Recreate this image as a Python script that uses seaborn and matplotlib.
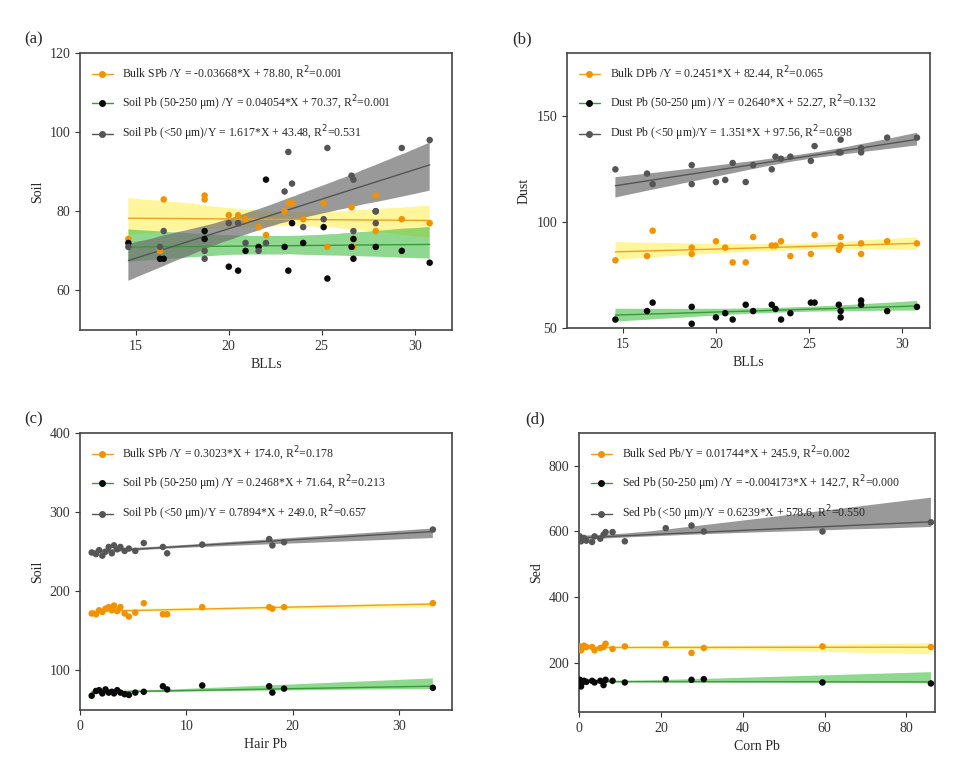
import numpy as np
import pandas as pd
import matplotlib
matplotlib.use('Agg')
import matplotlib.pyplot as plt
from matplotlib.lines import Line2D
import seaborn as sns

sns.set_style('ticks')
plt.rcParams['font.family'] = ['Liberation Serif', 'DejaVu Serif']

# (a) soil vs BLLs
a_x = [14.6, 16.3, 16.5, 18.7, 18.7, 20, 20.5, 20.9, 21.6, 22, 23, 23.2, 23.4, 24, 25.1, 25.3,
       26.6, 26.7, 26.7, 27.9, 27.9, 29.3, 30.8]
a_bulk = [73, 70, 83, 84, 83, 79, 79, 78, 76, 74, 80, 82, 82, 78, 82, 71, 81, 73, 71, 84, 75, 78, 77]
a_coarse = [72, 68, 68, 75, 73, 66, 65, 70, 71, 88, 71, 65, 77, 72, 76, 63, 71, 68, 73, 80, 71, 70, 67]
a_fine = [71, 71, 75, 70, 68, 77, 77, 72, 70, 72, 85, 95, 87, 76, 78, 96, 89, 88, 75, 77, 80, 96, 98]
a_labels = ['Bulk SPb /Y = -0.03668*X + 78.80, R$^2$=0.001',
            'Soil Pb (50-250 μm) /Y = 0.04054*X + 70.37, R$^2$=0.001',
            'Soil Pb (<50 μm)/Y = 1.617*X + 43.48, R$^2$=0.531']

# (b) dust vs BLLs
b_x = [14.6, 16.3, 16.6, 18.7, 18.7, 20, 20.5, 20.9, 21.6, 22, 23, 23.2, 23.5, 24, 25.1, 25.3,
       26.6, 26.7, 26.7, 27.8, 27.8, 29.2, 30.8]
b_bulk = [82, 84, 96, 88, 85, 91, 88, 81, 81, 93, 89, 89, 91, 84, 85, 94, 87, 93, 89, 90, 85, 91, 90]
b_coarse = [54, 58, 62, 60, 52, 55, 57, 54, 61, 58, 61, 59, 54, 57, 62, 62, 61, 58, 55, 63, 61, 58, 60]
b_fine = [125, 123, 118, 127, 118, 119, 120, 128, 119, 127, 125, 131, 130, 131, 129, 136, 133, 139,
          133, 135, 133, 140, 140]
b_labels = ['Bulk DPb /Y = 0.2451*X + 82.44, R$^2$=0.065',
            'Dust Pb (50-250 μm) /Y = 0.2640*X + 52.27, R$^2$=0.132',
            'Dust Pb (<50 μm)/Y = 1.351*X + 97.56, R$^2$=0.698']

# (c) soil vs hair Pb
c_x = [1.1, 1.5, 1.8, 2.1, 2.4, 2.7, 3.0, 3.2, 3.5, 3.8, 4.2, 4.6, 5.2, 6.0, 7.8, 8.2, 11.5,
       17.8, 18.1, 19.2, 33.2]
c_bulk = [172, 171, 176, 174, 178, 180, 176, 182, 175, 180, 172, 168, 173, 185, 171, 171, 180,
          180, 178, 180, 185]
c_coarse = [68, 74, 75, 71, 76, 72, 73, 71, 75, 72, 70, 69, 72, 73, 80, 76, 81, 80, 72, 77, 78]
c_fine = [249, 247, 252, 245, 250, 256, 248, 258, 253, 256, 251, 254, 251, 261, 256, 248, 259,
          266, 258, 262, 278]
c_labels = ['Bulk SPb /Y = 0.3023*X + 174.0, R$^2$=0.178',
            'Soil Pb (50-250 μm) /Y = 0.2468*X + 71.64, R$^2$=0.213',
            'Soil Pb (<50 μm)/Y = 0.7894*X + 249.0, R$^2$=0.657']

# (d) sediment vs corn Pb
d_x = [0.2, 0.5, 0.8, 1.2, 1.8, 3.2, 3.8, 5.2, 6.0, 6.5, 8.2, 11.2, 21.2, 27.5, 30.5, 59.5, 86]
d_bulk = [250, 238, 245, 252, 248, 248, 238, 245, 248, 258, 242, 250, 258, 230, 245, 250, 248]
d_coarse = [148, 128, 140, 145, 142, 145, 140, 145, 132, 148, 145, 140, 150, 148, 150, 140, 137]
d_fine = [585, 570, 575, 580, 572, 568, 585, 578, 590, 598, 598, 570, 610, 618, 600, 600, 628]
d_labels = ['Bulk Sed Pb/Y = 0.01744*X + 245.9, R$^2$=0.002',
            'Sed Pb (50-250 μm) /Y = -0.004173*X + 142.7, R$^2$=0.000',
            'Sed Pb (<50 μm)/Y = 0.6239*X + 578.6, R$^2$=0.550']

# (point colour, line colour, band colour, band alpha)
styles = [('#F39200', '#F0A020', '#FFF27A', 0.75),
          ('#0A0A0A', '#3A9A3A', '#44BE44', 0.6),
          ('#555555', '#555555', '#6E6E6E', 0.7)]

panels = [
    ('(a)', a_x, [a_bulk, a_coarse, a_fine], a_labels, 'BLLs', 'Soil',
     [80, 452, 53, 330], (12, 32), (50, 120), [15, 20, 25, 30], [60, 80, 100, 120]),
    ('(b)', b_x, [b_bulk, b_coarse, b_fine], b_labels, 'BLLs', 'Dust',
     [567, 930, 53, 328], (12, 31.5), (50, 180), [15, 20, 25, 30], [50, 100, 150]),
    ('(c)', c_x, [c_bulk, c_coarse, c_fine], c_labels, 'Hair Pb', 'Soil',
     [80, 452, 433, 710], (0, 35), (50, 400), [0, 10, 20, 30], [100, 200, 300, 400]),
    ('(d)', d_x, [d_bulk, d_coarse, d_fine], d_labels, 'Corn Pb', 'Sed',
     [579, 935, 433, 712], (0, 87), (50, 900), [0, 20, 40, 60, 80], [200, 400, 600, 800]),
]

W, H = 974, 762
fig = plt.figure(figsize=(W / 100, H / 100), dpi=100)

for tag, xs, series, labels, xlab, ylab, box, xlim, ylim, xt, yt in panels:
    l, r, t, b = box
    ax = fig.add_axes([l / W, 1 - b / H, (r - l) / W, (b - t) / H])
    handles = []
    for ys, lab, (pc, lc, bc, al) in zip(series, labels, styles):
        df = pd.DataFrame({'x': xs, 'y': ys})
        n_before = len(ax.collections)
        sns.regplot(data=df, x='x', y='y', ax=ax, scatter=False, color=bc,
                    line_kws={'color': lc, 'lw': 1})
        for coll in ax.collections[n_before:]:
            coll.set_facecolor(bc)
            coll.set_alpha(al)
            coll.set_edgecolor('none')
        sns.scatterplot(data=df, x='x', y='y', ax=ax, color=pc, s=22, edgecolor='none', zorder=3)
        handles.append(Line2D([], [], color=lc, marker='o', markerfacecolor=pc,
                              markeredgecolor=pc, markersize=4, lw=1, label=lab))
    ax.legend(handles=handles, loc='upper left', frameon=False, fontsize=8.5,
              handlelength=1.8, labelspacing=0.9, borderaxespad=0.6)
    ax.set_xlim(*xlim)
    ax.set_ylim(*ylim)
    ax.set_xticks(xt)
    ax.set_yticks(yt)
    ax.set_xlabel(xlab, fontsize=10)
    ax.set_ylabel(ylab, fontsize=10)
    ax.tick_params(labelsize=10, color='#333333', labelcolor='#333333')
    for sp in ax.spines.values():
        sp.set_color('#444444')
        sp.set_linewidth(1.2)
    ax.text(-0.15, 1.02, tag, transform=ax.transAxes, fontsize=12, va='bottom')

fig.savefig('out.png', dpi=100)
